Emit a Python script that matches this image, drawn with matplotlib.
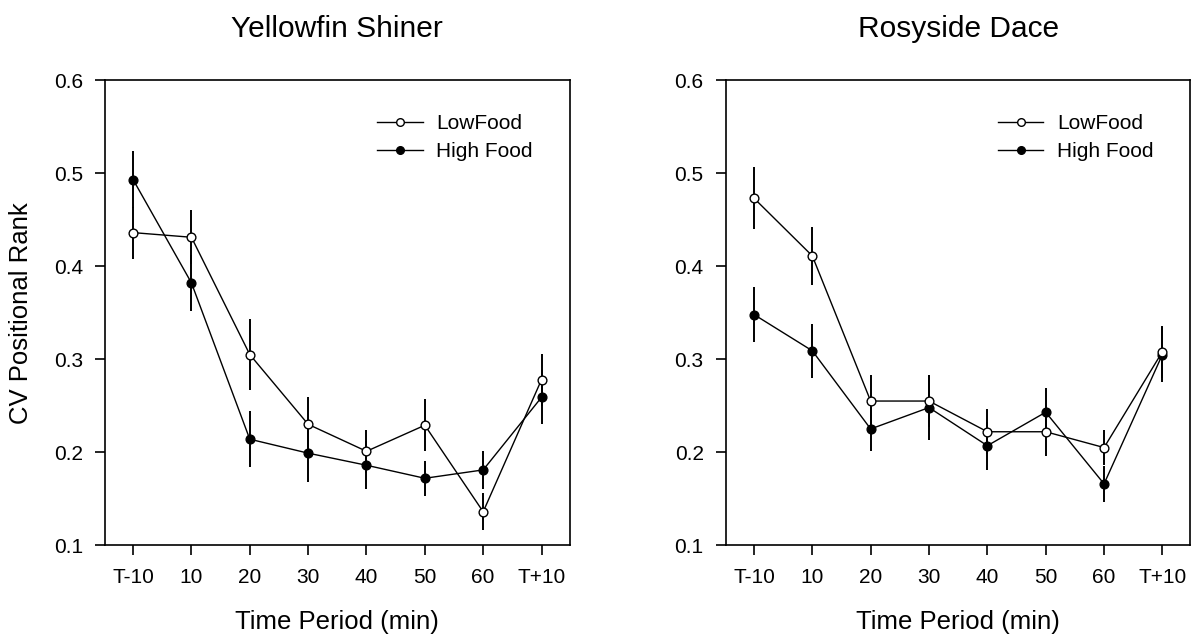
import matplotlib
matplotlib.use("Agg")
import matplotlib.pyplot as plt
from matplotlib.lines import Line2D
import numpy as np

plt.rcParams['font.family'] = ['Liberation Sans', 'DejaVu Sans']

categories = ["T-10", "10", "20", "30", "40", "50", "60", "T+10"]
yticks = [0.1, 0.2, 0.3, 0.4, 0.5, 0.6]

# Yellowfin Shiner
ys_low = [0.436, 0.431, 0.305, 0.230, 0.201, 0.229, 0.136, 0.278]
ys_low_err = [0.028, 0.029, 0.038, 0.029, 0.023, 0.028, 0.020, 0.028]
ys_high = [0.493, 0.382, 0.214, 0.199, 0.186, 0.172, 0.181, 0.259]
ys_high_err = [0.031, 0.030, 0.030, 0.031, 0.026, 0.019, 0.020, 0.029]

# Rosyside Dace
rd_low = [0.473, 0.411, 0.255, 0.255, 0.222, 0.222, 0.205, 0.308]
rd_low_err = [0.033, 0.031, 0.028, 0.028, 0.024, 0.026, 0.019, 0.028]
rd_high = [0.348, 0.309, 0.225, 0.248, 0.207, 0.243, 0.166, 0.305]
rd_high_err = [0.030, 0.029, 0.024, 0.035, 0.026, 0.026, 0.019, 0.030]

panels = [
    ("Yellowfin Shiner", ys_low, ys_low_err, ys_high, ys_high_err),
    ("Rosyside Dace", rd_low, rd_low_err, rd_high, rd_high_err),
]

fig = plt.figure(figsize=(11.94, 6.4), dpi=100)
rects = [[0.088, 0.148, 0.389, 0.727], [0.608, 0.148, 0.389, 0.727]]
x = np.arange(len(categories))

for i, (title, low, low_err, high, high_err) in enumerate(panels):
    ax = fig.add_axes(rects[i])
    ax.errorbar(x, high, yerr=high_err, color="black", lw=1.0, elinewidth=1.4,
                capsize=0, marker="o", ms=6.3, mfc="black", mec="black",
                zorder=3)
    ax.errorbar(x, low, yerr=low_err, color="black", lw=1.0, elinewidth=1.4,
                capsize=0, marker="o", ms=6.3, mfc="white", mec="black", mew=1.0,
                zorder=4)
    ax.set_xlim(-0.48, 7.48)
    ax.set_ylim(0.1, 0.6)
    ax.set_xticks(x)
    ax.set_xticklabels(categories)
    ax.set_yticks(yticks)
    ax.set_yticklabels([f"{v:.1f}" for v in yticks])
    ax.tick_params(axis="both", direction="out", length=7, width=1.2,
                   labelsize=15, color="black")
    ax.tick_params(axis="x", pad=9)
    ax.tick_params(axis="y", pad=9)
    for s in ax.spines.values():
        s.set_linewidth(1.2)
    ax.set_title(title, fontsize=21.5, pad=31)
    ax.set_xlabel("Time Period (min)", fontsize=18.5, labelpad=17)
    if i == 0:
        ax.set_ylabel("CV Positional Rank", fontsize=18.5, labelpad=15)
    handles = [
        Line2D([], [], color="black", lw=1.0, marker="o", ms=5.5, mfc="white", mec="black"),
        Line2D([], [], color="black", lw=1.0, marker="o", ms=5.5, mfc="black", mec="black"),
    ]
    ax.legend(handles, ["LowFood", "High Food"], loc="upper left", frameon=False,
              fontsize=15, handlelength=2.2, handletextpad=0.65, borderaxespad=0,
              borderpad=0, labelspacing=0.45, bbox_to_anchor=(0.585, 0.927))

fig.savefig("out.png", dpi=100, facecolor="white")
